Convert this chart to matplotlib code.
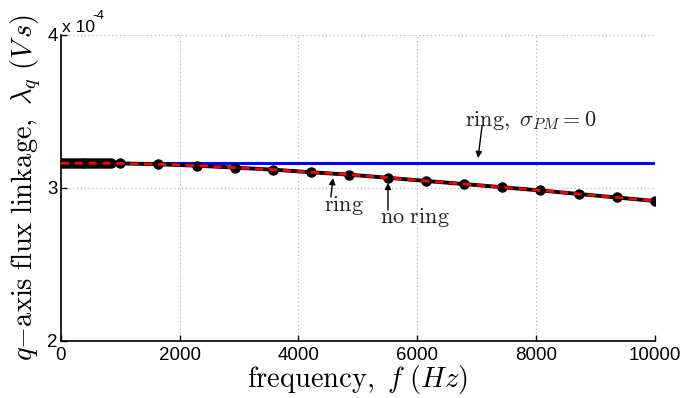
import numpy as np
import matplotlib
matplotlib.use("Agg")
import matplotlib.pyplot as plt
from matplotlib.ticker import FixedLocator, FuncFormatter

plt.rcParams["mathtext.fontset"] = "cm"
plt.rcParams["font.family"] = ["Liberation Sans", "DejaVu Sans"]

# frequency points (Hz)
freq = [0, 50, 100, 150, 200, 250, 300, 350, 400, 450, 500, 550, 600, 650,
        700, 750, 800, 850,
        1000, 1643, 2286, 2929, 3571, 4214, 4857, 5500, 6143, 6786, 7429,
        8071, 8714, 9357, 10000]

# q-axis flux linkage in units of 1e-4 V s
lam_ring = [3.160] * 18 + [3.159, 3.153, 3.144, 3.131, 3.118, 3.101, 3.085,
                           3.065, 3.044, 3.024, 3.003, 2.982, 2.959, 2.936,
                           2.913]
lam_no_ring = [3.160] * 18 + [3.159, 3.153, 3.144, 3.131, 3.118, 3.101, 3.085,
                              3.065, 3.044, 3.024, 3.003, 2.982, 2.959, 2.936,
                              2.913]
lam_ring_sigma0 = [3.160] * len(freq)

x_ticks = [0, 2000, 4000, 6000, 8000, 10000]
y_ticks = [2, 3, 4]
scale = 1e-4

fig = plt.figure(figsize=(6.86, 3.98), dpi=100)
ax = fig.add_axes([0.0885, 0.144, 0.8663, 0.7688])

f = np.array(freq)
ax.plot(f, np.array(lam_ring_sigma0) * scale, color="#0000ff", lw=2.2, zorder=2)
ax.plot(f, np.array(lam_ring) * scale, color="black", lw=2.8, marker="o",
        markersize=6.5, markerfacecolor="black", markeredgecolor="black", zorder=3)
ax.plot(f, np.array(lam_no_ring) * scale, color="#ff0000", lw=2.0,
        dashes=(3, 2), zorder=4)

ax.set_xlim(0, 10000)
ax.set_ylim(2 * scale, 4 * scale)
ax.xaxis.set_major_locator(FixedLocator(x_ticks))
ax.yaxis.set_major_locator(FixedLocator([v * scale for v in y_ticks]))
ax.yaxis.set_major_formatter(FuncFormatter(lambda v, p: f"{v / scale:.0f}"))

for s in ("top", "right"):
    ax.spines[s].set_visible(False)
for s in ("left", "bottom"):
    ax.spines[s].set_linewidth(1.2)
ax.tick_params(direction="in", length=4, width=1, labelsize=13.5, pad=2,
               colors="black")
ax.tick_params(axis="x", pad=4.5)
ax.grid(True, linestyle=(0, (1, 2.5)), color="#aaaaaa", lw=0.8)

ax.set_xlabel(r"$\mathrm{frequency,}\ f\ (Hz)$", fontsize=20.5, labelpad=-1)
ax.set_ylabel(r"$q{-}\mathrm{axis\ flux\ linkage,}\ \lambda_q\ (V\,s)$",
              fontsize=20.5, labelpad=3)

fig.text(62 / 686, 1 - 32 / 398, "x 10", fontsize=12.5, ha="left", va="baseline")
fig.text(92 / 686, 1 - 19 / 398, "-4", fontsize=9.5, ha="left", va="baseline")

# annotations
txt_kw = dict(fontsize=16, color="#222222", va="baseline")
arrow_kw = dict(arrowstyle="-|>", color="black", lw=1.0, mutation_scale=9,
                shrinkA=0, shrinkB=0)

ax.text(6806, 3.405 * scale, r"$\mathrm{ring,}\ \sigma_{PM}=0$", ha="left", **txt_kw)
ax.annotate("", xy=(7022, 3.194 * scale), xytext=(7090, 3.403 * scale),
            arrowprops=arrow_kw)

ax.text(4767, 2.85 * scale, r"$\mathrm{ring}$", ha="center", **txt_kw)
ax.annotate("", xy=(4581, 3.063 * scale), xytext=(4547, 2.939 * scale),
            arrowprops=arrow_kw)

ax.text(5962, 2.767 * scale, r"$\mathrm{no\ ring}$", ha="center", **txt_kw)
ax.annotate("", xy=(5507, 3.031 * scale), xytext=(5507, 2.854 * scale),
            arrowprops=arrow_kw)

fig.savefig("out.png", dpi=100)
